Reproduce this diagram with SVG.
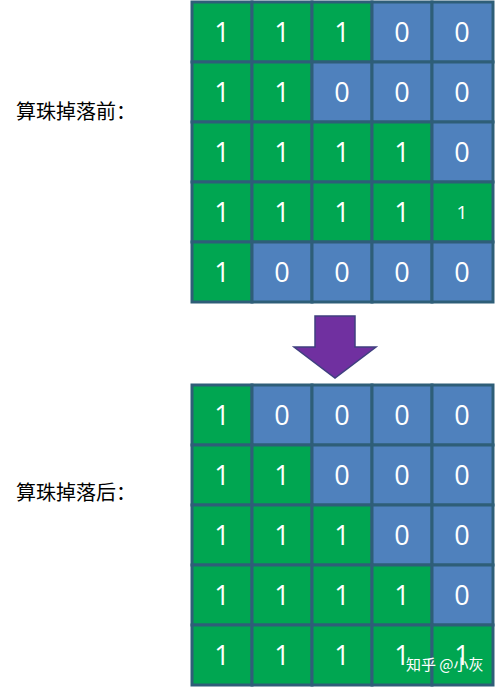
<svg xmlns="http://www.w3.org/2000/svg" width="496" height="688" viewBox="0 0 496 688">
<style>
.g{fill:#00A651;stroke:#2E5E78;stroke-width:3}
.b{fill:#4F81BD;stroke:#2E5E78;stroke-width:3}
.t{font-family:"Open Sans","Liberation Sans",sans-serif;font-size:27px;fill:#fff;text-anchor:middle}
.s{font-size:19px}
.lbl{font-family:"Noto Sans CJK SC",sans-serif;font-size:20px;fill:#000}
.wm{font-family:"Noto Sans CJK SC",sans-serif;font-size:15px;fill:#fff}
</style>
<rect width="496" height="688" fill="#fff"/>
<text class="lbl" x="16" y="119">算珠掉落前：</text>
<text class="lbl" x="16" y="500">算珠掉落后：</text>
<g id="before">
<rect class="g" x="192" y="2" width="60" height="60"/><rect class="g" x="252" y="2" width="60" height="60"/><rect class="g" x="312" y="2" width="60" height="60"/><rect class="b" x="372" y="2" width="60" height="60"/><rect class="b" x="432" y="2" width="61" height="60"/>
<rect class="g" x="192" y="62" width="60" height="60"/><rect class="g" x="252" y="62" width="60" height="60"/><rect class="b" x="312" y="62" width="60" height="60"/><rect class="b" x="372" y="62" width="60" height="60"/><rect class="b" x="432" y="62" width="61" height="60"/>
<rect class="g" x="192" y="122" width="60" height="60"/><rect class="g" x="252" y="122" width="60" height="60"/><rect class="g" x="312" y="122" width="60" height="60"/><rect class="g" x="372" y="122" width="60" height="60"/><rect class="b" x="432" y="122" width="61" height="60"/>
<rect class="g" x="192" y="182" width="60" height="60"/><rect class="g" x="252" y="182" width="60" height="60"/><rect class="g" x="312" y="182" width="60" height="60"/><rect class="g" x="372" y="182" width="60" height="60"/><rect class="g" x="432" y="182" width="61" height="60"/>
<rect class="g" x="192" y="242" width="60" height="60"/><rect class="b" x="252" y="242" width="60" height="60"/><rect class="b" x="312" y="242" width="60" height="60"/><rect class="b" x="372" y="242" width="60" height="60"/><rect class="b" x="432" y="242" width="61" height="60"/>
<text class="t" x="222" y="42">1</text><text class="t" x="282" y="42">1</text><text class="t" x="342" y="42">1</text><text class="t" x="402" y="42">0</text><text class="t" x="462" y="42">0</text>
<text class="t" x="222" y="102">1</text><text class="t" x="282" y="102">1</text><text class="t" x="342" y="102">0</text><text class="t" x="402" y="102">0</text><text class="t" x="462" y="102">0</text>
<text class="t" x="222" y="162">1</text><text class="t" x="282" y="162">1</text><text class="t" x="342" y="162">1</text><text class="t" x="402" y="162">1</text><text class="t" x="462" y="162">0</text>
<text class="t" x="222" y="222">1</text><text class="t" x="282" y="222">1</text><text class="t" x="342" y="222">1</text><text class="t" x="402" y="222">1</text><text class="t s" x="462" y="219">1</text>
<text class="t" x="222" y="282">1</text><text class="t" x="282" y="282">0</text><text class="t" x="342" y="282">0</text><text class="t" x="402" y="282">0</text><text class="t" x="462" y="282">0</text>
</g>
<g id="arrow">
<polygon points="315,316 355,316 355,347 376,347 335,378 294,347 315,347" fill="#7030A0" stroke="#3F3F7F" stroke-width="1.5"/>
</g>
<g id="after">
<rect class="g" x="192" y="385" width="60" height="60"/><rect class="b" x="252" y="385" width="60" height="60"/><rect class="b" x="312" y="385" width="60" height="60"/><rect class="b" x="372" y="385" width="60" height="60"/><rect class="b" x="432" y="385" width="61" height="60"/>
<rect class="g" x="192" y="445" width="60" height="60"/><rect class="g" x="252" y="445" width="60" height="60"/><rect class="b" x="312" y="445" width="60" height="60"/><rect class="b" x="372" y="445" width="60" height="60"/><rect class="b" x="432" y="445" width="61" height="60"/>
<rect class="g" x="192" y="505" width="60" height="60"/><rect class="g" x="252" y="505" width="60" height="60"/><rect class="g" x="312" y="505" width="60" height="60"/><rect class="b" x="372" y="505" width="60" height="60"/><rect class="b" x="432" y="505" width="61" height="60"/>
<rect class="g" x="192" y="565" width="60" height="60"/><rect class="g" x="252" y="565" width="60" height="60"/><rect class="g" x="312" y="565" width="60" height="60"/><rect class="g" x="372" y="565" width="60" height="60"/><rect class="b" x="432" y="565" width="61" height="60"/>
<rect class="g" x="192" y="625" width="60" height="60"/><rect class="g" x="252" y="625" width="60" height="60"/><rect class="g" x="312" y="625" width="60" height="60"/><rect class="g" x="372" y="625" width="60" height="60"/><rect class="g" x="432" y="625" width="61" height="60"/>
<text class="t" x="222" y="425">1</text><text class="t" x="282" y="425">0</text><text class="t" x="342" y="425">0</text><text class="t" x="402" y="425">0</text><text class="t" x="462" y="425">0</text>
<text class="t" x="222" y="485">1</text><text class="t" x="282" y="485">1</text><text class="t" x="342" y="485">0</text><text class="t" x="402" y="485">0</text><text class="t" x="462" y="485">0</text>
<text class="t" x="222" y="545">1</text><text class="t" x="282" y="545">1</text><text class="t" x="342" y="545">1</text><text class="t" x="402" y="545">0</text><text class="t" x="462" y="545">0</text>
<text class="t" x="222" y="605">1</text><text class="t" x="282" y="605">1</text><text class="t" x="342" y="605">1</text><text class="t" x="402" y="605">1</text><text class="t" x="462" y="605">0</text>
<text class="t" x="222" y="665">1</text><text class="t" x="282" y="665">1</text><text class="t" x="342" y="665">1</text><text class="t" x="402" y="665">1</text><text class="t" x="462" y="665">1</text>
</g>
<text class="wm" x="406" y="670">知乎 @小灰</text>
</svg>
